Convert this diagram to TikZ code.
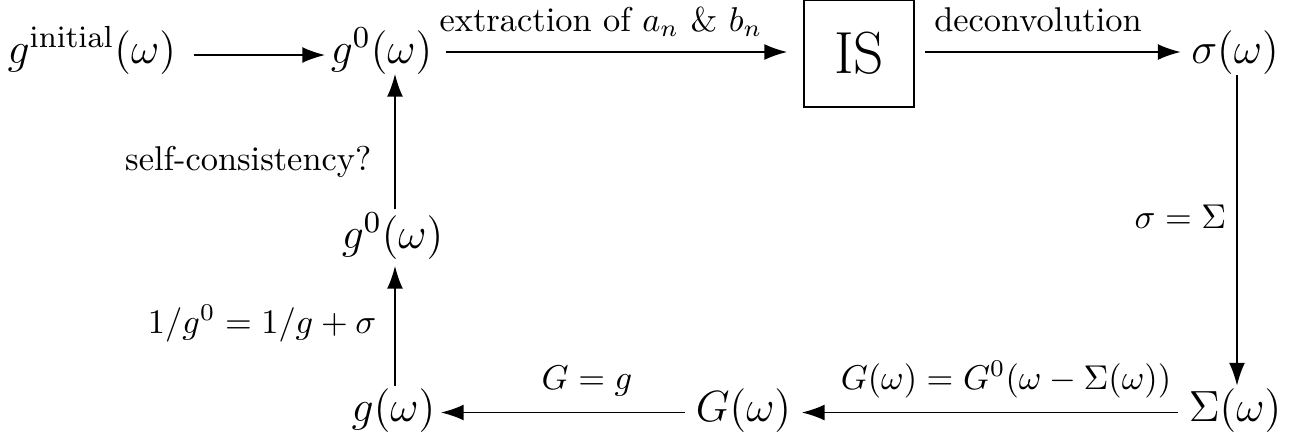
\RequirePackage{fix-cm}
\documentclass[tikz,border=0pt]{standalone}
\usetikzlibrary{arrows.meta,calc}
\begin{document}
\begin{tikzpicture}[x=0.2907pt,y=-0.2907pt,
  arr/.style={-{Latex[length=6.6pt,width=4.6pt]}, line width=0.45pt},
  big/.style={inner sep=0pt, font=\fontsize{12.7}{15}\selectfont, text height=0.75em, text depth=0.25em},
  lbl/.style={inner sep=0pt, font=\normalsize},
  isbox/.style={draw, line width=0.45pt, inner sep=0pt, minimum width=32pt, minimum height=31pt, font=\fontsize{17.28}{20}\selectfont}]
\useasboundingbox (0,0) rectangle (1312,442);
% main nodes
\node[big, anchor=west] (gi)  at (7,55)   {$g^{\mathrm{initial}}(\omega)$};
\node[big] (g0)  at (381.5,55)  {$g^0(\omega)$};
\node[isbox] (IS) at (859,53.5) {IS};
\node[big] (sig) at (1235,55) {$\sigma(\omega)$};
\node[big] (g0m) at (392.5,240) {$g^0(\omega)$};
\node[big] (g)   at (393.5,412.5) {$g(\omega)$};
\node[big] (G)   at (743.5,412.5) {$G(\omega)$};
\node[big] (Sig) at (1235,412.5) {$\Sigma(\omega)$};
% connectors
\draw[arr] ($(g0.west)+(-136,0)$) -- ($(g0.west)+(-5,0)$);
\draw[arr] ($(g0.east)+(13,-3)$) -- ($(g0.east -| IS.west)+(-16,-3)$);
\draw[arr] ($(sig.west -| IS.east)+(10,-3)$) -- ($(sig.west)+(-10,-3)$);
\draw[arr] ($(sig.south)+(2,2)$) -- ($(Sig.north)+(2,-9)$);
\draw[arr] ($(Sig.west)+(-10,0)$) -- ($(G.east)+(10,0)$);
\draw[arr] ($(G.west)+(-10,0)$) -- ($(g.east)+(5,0)$);
\draw[arr] ($(g.north)+(1.5,-9)$) -- ($(g0m.south)+(2.5,8)$);
\draw[arr] ($(g0m.north)+(2.5,-13)$) -- ($(g0.south)+(13.5,1)$);
% labels
\node[lbl, anchor=base] (l1) at (601,31) {extraction of $a_n$ \& $b_n$};
\node[lbl, anchor=base] (l2) at (1038,31.5) {deconvolution};
\node[lbl, anchor=base east] (l3) at (372,170) {self-consistency?};
\node[lbl, anchor=base east] (l4) at (377,333) {$1/g^0=1/g+\sigma$};
\node[lbl, anchor=base east] (l5) at (1227,228) {$\sigma=\Sigma$};
\node[lbl, anchor=base] (l6) at (587,389) {$G=g$};
\node[lbl, anchor=base] (l7) at (1006,389) {$G(\omega)=G^0(\omega-\Sigma(\omega))$};
\end{tikzpicture}
\end{document}
